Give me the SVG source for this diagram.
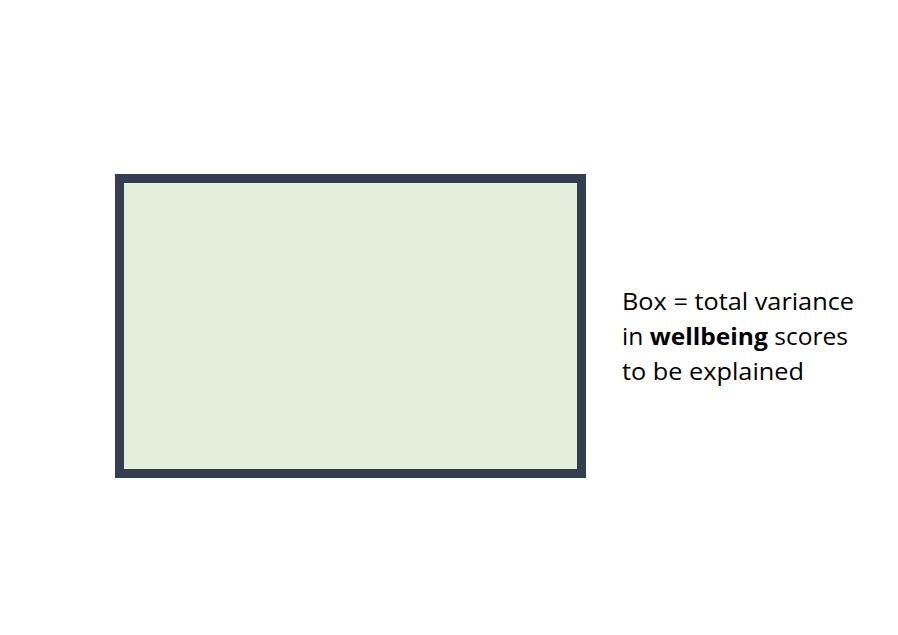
<svg xmlns="http://www.w3.org/2000/svg" width="898" height="635" viewBox="0 0 898 635">
<style>
.lbl{font-family:"Open Sans","Noto Sans","DejaVu Sans",sans-serif;font-size:23px;fill:#000}
</style>
<rect width="898" height="635" fill="#fff"/>
<g id="box">
<rect x="119.5" y="178.5" width="462" height="295" fill="#E2EFDA" stroke="#333F50" stroke-width="9"/>
</g>
<g id="label">
<text class="lbl" x="622" y="310" textLength="232" lengthAdjust="spacingAndGlyphs">Box = total variance</text>
<text class="lbl" x="622" y="345" textLength="226" lengthAdjust="spacingAndGlyphs">in <tspan font-weight="bold">wellbeing</tspan> scores</text>
<text class="lbl" x="622" y="380" textLength="182" lengthAdjust="spacingAndGlyphs">to be explained</text>
</g>
<g id="connectors"></g>
</svg>
